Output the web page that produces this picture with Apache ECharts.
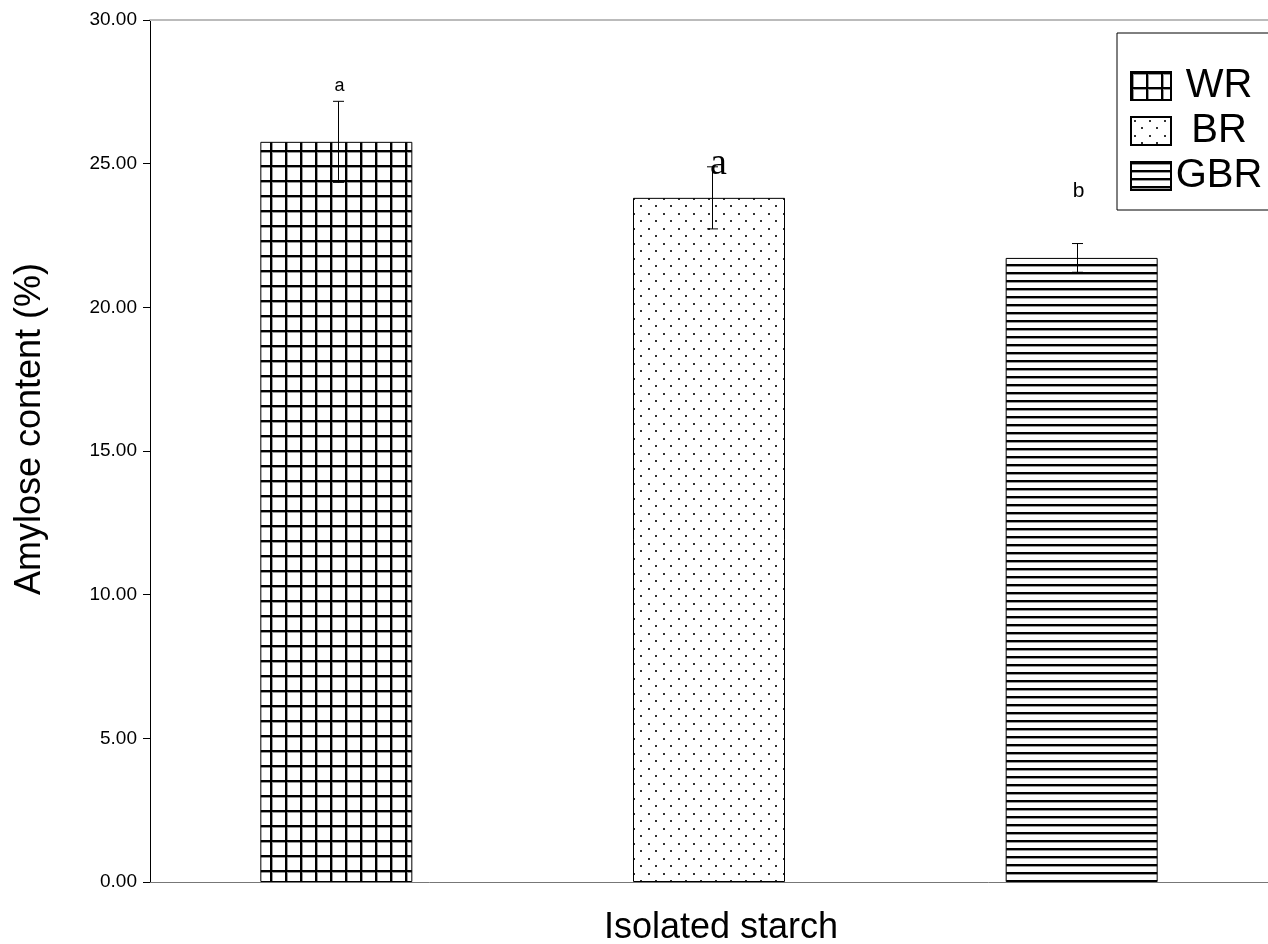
<!DOCTYPE html>
<html>
<head>
<meta charset="utf-8">
<script src="https://cdn.jsdelivr.net/npm/echarts@6/dist/echarts.min.js"></script>
<style>
html,body{margin:0;padding:0;background:#fff;}
#chart{width:1268px;height:944px;}
</style>
</head>
<body>
<div id="chart"></div>
<script>
// ---- data ----
const categories = ['WR', 'BR', 'GBR'];
const means = [25.76, 23.81, 21.72];
const errors = [1.41, 1.08, 0.50];
const letters = ['a', 'a', 'b'];
const yMin = 0, yMax = 30, yStep = 5;

// ---- styles ----
const FONT = 'Liberation Sans, Arial, sans-serif';
const letterStyles = [
  { font: '18px ' + FONT, above: 15, dx: 3 },
  { font: '38px Liberation Serif, Times New Roman, serif', above: 3, dx: 9 },
  { font: '21px ' + FONT, above: 52, dx: -4 }
];

function makeCanvas(w, h, draw) {
  const c = document.createElement('canvas');
  c.width = w; c.height = h;
  const g = c.getContext('2d');
  g.fillStyle = '#fff'; g.fillRect(0, 0, w, h);
  draw(g);
  return c;
}
const gridPat = makeCanvas(15, 15, g => {
  g.fillStyle = '#999';
  g.fillRect(2, 0, 1, 15);
  g.fillRect(0, 2, 15, 1);
  g.fillStyle = '#000';
  g.fillRect(0, 0, 2, 15);
  g.fillRect(0, 0, 15, 2);
});
const dotPat = makeCanvas(15, 15, g => {
  g.fillStyle = '#333';
  g.fillRect(3, 3, 2, 2);
  g.fillRect(10, 10, 2, 2);
});
const linePat = makeCanvas(8, 8, g => {
  g.fillStyle = '#999';
  g.fillRect(0, 2, 8, 1);
  g.fillStyle = '#000';
  g.fillRect(0, 0, 8, 2);
});
const patterns = [gridPat, dotPat, linePat];

const barSeries = categories.map((name, i) => ({
  name: name,
  type: 'bar',
  barWidth: 152,
  barGap: '-100%',
  data: categories.map((c, j) => (j === i ? means[i] : '-')),
  itemStyle: {
    color: { image: patterns[i], repeat: 'repeat' },
    borderColor: '#000',
    borderWidth: 1
  },
  z: 2
}));

const errSeries = {
  type: 'custom',
  name: 'err',
  data: categories.map((c, i) => [i, means[i], errors[i]]),
  z: 5,
  renderItem: function (params, api) {
    const i = api.value(0), m = api.value(1), e = api.value(2);
    const top = api.coord([i, m + e]);
    const bot = api.coord([i, m - e]);
    const x = Math.round(top[0]) + 0.5 + (i === 0 ? 2 : i === 1 ? 3 : -5);
    const half = 5.5;
    const ls = { stroke: '#000', lineWidth: 1 };
    const st = letterStyles[i];
    return {
      type: 'group',
      children: [
        { type: 'line', shape: { x1: x, y1: top[1], x2: x, y2: bot[1] }, style: ls },
        { type: 'line', shape: { x1: x - half, y1: top[1], x2: x + half, y2: top[1] }, style: ls },
        { type: 'line', shape: { x1: x - half, y1: bot[1], x2: x + half, y2: bot[1] }, style: ls },
        { type: 'text', style: { text: letters[i], x: x + st.dx - (i === 0 ? 2 : i === 1 ? 3 : -5), y: top[1] - st.above, font: st.font, fill: '#000', align: 'center', verticalAlign: 'middle' } }
      ]
    };
  }
};

const chart = echarts.init(document.getElementById('chart'), null, { renderer: 'canvas' });
chart.setOption({
  animation: false,
  backgroundColor: '#fff',
  grid: { left: 150, right: 0, top: 20, bottom: 62 },
  legend: {
    data: categories,
    orient: 'vertical',
    left: 1117,
    top: 33,
    padding: [33, 30, 14, 13],
    borderColor: '#000',
    borderWidth: 1,
    icon: 'rect',
    itemWidth: 40,
    itemHeight: 28,
    itemGap: 5,
    selectedMode: false,
    formatter: n => '{t|' + n + '}',
    textStyle: {
      color: '#000',
      rich: { t: { width: 86, align: 'center', fontSize: 40, fontFamily: FONT, color: '#000', lineHeight: 40 } }
    }
  },
  xAxis: [
    {
      type: 'category', data: categories, position: 'bottom',
      axisLine: { lineStyle: { color: '#777', width: 1 } },
      axisTick: { show: false }, axisLabel: { show: false }, splitLine: { show: false }
    },
    {
      type: 'category', data: categories, position: 'top',
      axisLine: { lineStyle: { color: '#bbb', width: 2 } },
      axisTick: { show: false }, axisLabel: { show: false }, splitLine: { show: false }
    }
  ],
  yAxis: {
    type: 'value', min: yMin, max: yMax, interval: yStep,
    axisLine: { show: true, lineStyle: { color: '#000', width: 1 } },
    axisTick: { show: true, length: 7, lineStyle: { color: '#000' } },
    axisLabel: { formatter: v => v.toFixed(2), fontSize: 19, fontFamily: FONT, color: '#000', margin: 13 },
    splitLine: { show: false }
  },
  graphic: [
    { type: 'text', x: 721, y: 928, style: { text: 'Isolated starch', font: '36px ' + FONT, fill: '#000', align: 'center', verticalAlign: 'middle' } },
    { type: 'text', x: 30, y: 429, rotation: Math.PI / 2, style: { text: 'Amylose content (%)', font: '36px ' + FONT, fill: '#000', align: 'center', verticalAlign: 'middle' } }
  ],
  series: barSeries.concat([errSeries])
});
</script>
</body>
</html>
